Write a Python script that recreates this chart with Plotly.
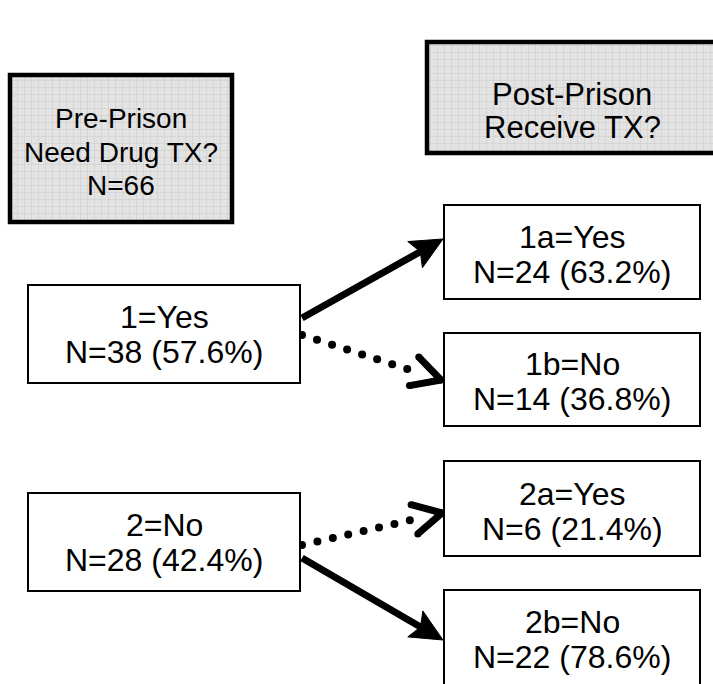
import numpy as np
import plotly.graph_objects as go

# ---------------- data ----------------
total_n = 66
header_lines = [["Pre-Prison", "Need Drug TX?", f"N={total_n}"],
                ["Post-Prison", "Receive TX?"]]
pre_labels = ["1=Yes", "2=No"]
pre_n = [38, 28]
pre_pct = [57.6, 42.4]
post_labels = ["1a=Yes", "1b=No", "2a=Yes", "2b=No"]
post_n = [24, 14, 6, 22]
post_pct = [63.2, 36.8, 21.4, 78.6]
arrow_style = ["solid", "dot", "dot", "solid"]

# ---------------- layout geometry (page pixels) ----------------
W, H = 713, 684
header_boxes = [(10, 75, 232, 222), (427, 42, 722, 153)]
header_text_cx = [121, 572]
header_text_cy = [152, 111]
header_fs = [28, 31]
header_line = [33.5, 33.5]
pre_boxes = [(28, 285, 300, 383), (28, 493, 300, 591)]
post_boxes = [(444, 205, 700, 299), (444, 333, 700, 426),
              (444, 461, 700, 556), (444, 590, 700, 690)]
pre_text_cy = [334, 542]
post_text_cy = [254, 381, 511, 639]
arrow_start = [(302, 318), (302, 335), (302, 545), (302, 558)]
arrow_end = [(443, 239), (441, 380), (442, 513), (443, 640)]

FONT = "Liberation Sans, Arial, sans-serif"
FS = 32
LINE = 35

fig = go.Figure()
annotations = []
shapes = []


def add_text(lines, cx, cy, size, line_gap):
    for i, t in enumerate(lines):
        y = cy + (i - (len(lines) - 1) / 2) * line_gap
        annotations.append(dict(x=cx, y=y, xref="x", yref="y", text=t, showarrow=False,
                                xanchor="center", yanchor="middle",
                                font=dict(family=FONT, size=size, color="black")))


# header boxes: patterned grey fill with thick black border
for (x0, y0, x1, y1), lines, cx, cy, fs, lg in zip(header_boxes, header_lines, header_text_cx,
                                                   header_text_cy, header_fs, header_line):
    fig.add_trace(go.Bar(x=[(x0 + x1) / 2], y=[y1 - y0], base=[y0], width=[x1 - x0],
                         marker=dict(color="#e3e3e3", line=dict(width=0),
                                     pattern=dict(shape="+", size=7, solidity=0.14,
                                                  fgcolor="#c9c9c9", fgopacity=1,
                                                  fillmode="overlay")),
                         hoverinfo="skip", showlegend=False))
    shapes.append(dict(type="rect", xref="x", yref="y", x0=x0, y0=y0, x1=x1, y1=y1,
                       line=dict(color="black", width=4.5), fillcolor="rgba(0,0,0,0)"))
    add_text(lines, cx, cy, fs, lg)

# content boxes
for (x0, y0, x1, y1), cy, lab, n, p in zip(pre_boxes, pre_text_cy, pre_labels, pre_n, pre_pct):
    shapes.append(dict(type="rect", xref="x", yref="y", x0=x0, y0=y0, x1=x1, y1=y1,
                       line=dict(color="black", width=2), fillcolor="white"))
    add_text([lab, f"N={n} ({p:.1f}%)"], (x0 + x1) / 2, cy, FS, LINE)

for (x0, y0, x1, y1), cy, lab, n, p in zip(post_boxes, post_text_cy, post_labels, post_n, post_pct):
    shapes.append(dict(type="rect", xref="x", yref="y", x0=x0, y0=y0, x1=x1, y1=y1,
                       line=dict(color="black", width=2), fillcolor="white"))
    add_text([lab, f"N={n} ({p:.1f}%)"], (x0 + x1) / 2, cy, FS, LINE)


# arrows
def unit(p0, p1):
    d = np.array(p1, float) - np.array(p0, float)
    L = np.linalg.norm(d)
    u = d / L
    return u, np.array([-u[1], u[0]]), L


def solid_arrow(p0, p1):
    p0, p1 = np.array(p0, float), np.array(p1, float)
    u, nrm, L = unit(p0, p1)
    head_len, head_half, notch = 32, 15, 6
    line_end = p1 - u * (head_len - notch - 1)
    fig.add_trace(go.Scatter(x=[p0[0], line_end[0]], y=[p0[1], line_end[1]], mode="lines",
                             line=dict(color="black", width=7), hoverinfo="skip",
                             showlegend=False))
    base = p1 - u * head_len
    pts = [p1, base + nrm * head_half, p1 - u * (head_len - notch), base - nrm * head_half, p1]
    fig.add_trace(go.Scatter(x=[q[0] for q in pts], y=[q[1] for q in pts], mode="lines",
                             fill="toself", fillcolor="black", line=dict(color="black", width=1),
                             hoverinfo="skip", showlegend=False))


def dotted_arrow(p0, p1):
    p0, p1 = np.array(p0, float), np.array(p1, float)
    u, nrm, L = unit(p0, p1)
    spacing = 15.8
    s = np.arange(0, L - 28, spacing)
    dots = p0[None, :] + s[:, None] * u[None, :]
    fig.add_trace(go.Scatter(x=dots[:, 0], y=dots[:, 1], mode="markers",
                             marker=dict(color="black", size=8, line=dict(width=0)),
                             hoverinfo="skip", showlegend=False))
    th = np.deg2rad(28)
    v = -u
    arm_len = 32
    arms = []
    for sgn in (1, -1):
        c, sn = np.cos(sgn * th), np.sin(sgn * th)
        r = np.array([c * v[0] - sn * v[1], sn * v[0] + c * v[1]])
        arms.append(p1 + arm_len * r)
    pts = [arms[0], p1, arms[1]]
    fig.add_trace(go.Scatter(x=[q[0] for q in pts], y=[q[1] for q in pts], mode="lines+markers",
                             line=dict(color="black", width=7),
                             marker=dict(color="black", size=7, line=dict(width=0)),
                             hoverinfo="skip", showlegend=False))


for st, a0, a1 in zip(arrow_style, arrow_start, arrow_end):
    if st == "solid":
        solid_arrow(a0, a1)
    else:
        dotted_arrow(a0, a1)

fig.update_layout(width=W, height=H, margin=dict(l=0, r=0, t=0, b=0),
                  paper_bgcolor="white", plot_bgcolor="white",
                  xaxis=dict(range=[0, W], visible=False, fixedrange=True),
                  yaxis=dict(range=[H, 0], visible=False, fixedrange=True),
                  barmode="overlay", showlegend=False,
                  shapes=shapes, annotations=annotations)

# remove the default 8px page margin so the figure fills the window exactly
fig.write_html("out.html", config={"displayModeBar": False},
               post_script="document.body.style.margin='0';document.body.style.overflow='hidden';")
